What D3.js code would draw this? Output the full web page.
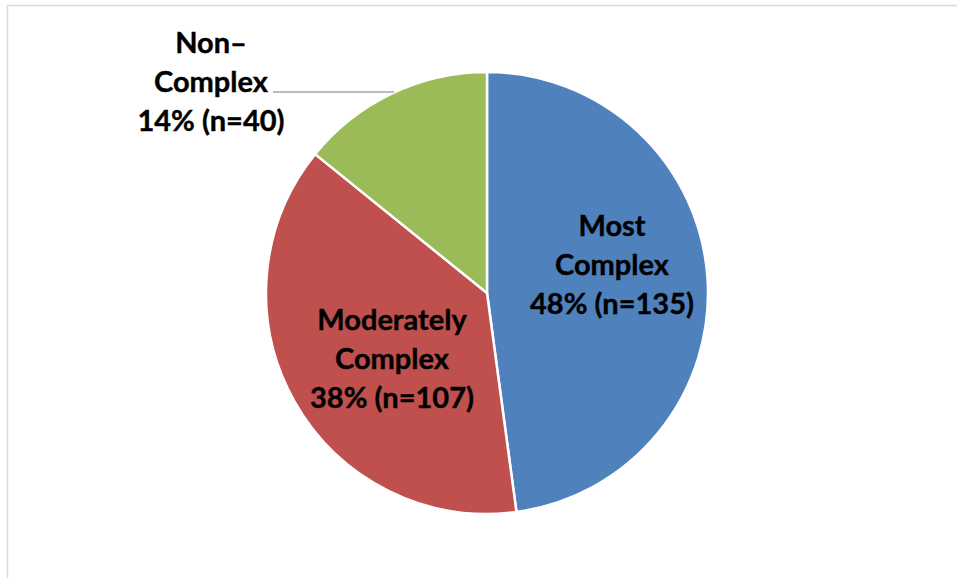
<!DOCTYPE html>
<html>
<head>
<meta charset="utf-8">
<script src="https://cdn.jsdelivr.net/npm/d3@7"></script>
<style>
  html, body { margin: 0; padding: 0; background: #fff; }
  svg { display: block; }
</style>
</head>
<body>
<svg id="chart" width="957" height="578"></svg>
<script>
// Case complexity breakdown
const categories = ["Most Complex", "Moderately Complex", "Non\u2013Complex"];
const counts = [135, 107, 40];
const percents = ["48%", "38%", "14%"];
const labelLines = [
  ["Most", "Complex"],
  ["Moderately", "Complex"],
  ["Non\u2013", "Complex"]
];
const colors = ["#4F81BD", "#C0504D", "#9BBB59"];

const W = 957, H = 578;
const cx = 487, cy = 293, R = 221;

const svg = d3.select("#chart");

// chart frame (clipped by the page edge on the right and bottom)
svg.append("rect")
  .attr("x", 7.5).attr("y", 5.5)
  .attr("width", W + 20).attr("height", H + 20)
  .attr("fill", "#fff")
  .attr("stroke", "#d9d9d9")
  .attr("stroke-width", 1.5);

const pie = d3.pie().sort(null).value(d => d)(counts);
const arc = d3.arc().innerRadius(0).outerRadius(R);

const g = svg.append("g").attr("transform", `translate(${cx},${cy})`);

g.selectAll("path.slice")
  .data(pie)
  .join("path")
  .attr("class", "slice")
  .attr("d", arc)
  .attr("fill", (d, i) => colors[i])
  .attr("stroke", "#fff")
  .attr("stroke-width", 2.5)
  .attr("stroke-linejoin", "round");

// label anchor points (x center, first baseline) relative to pie center
const labelPos = [
  { x: 125, y: -57 },
  { x: -95, y: 37 },
  { x: -276, y: -240 }
];
const lineStep = 39;

// leader line for the small slice label, running level until it meets the rim
const leaderY = -201;
const rimX = -Math.sqrt(R * R - leaderY * leaderY);
g.append("path")
  .attr("d", `M${labelPos[2].x + 62},${leaderY} L${rimX - 1},${leaderY}`)
  .attr("fill", "none")
  .attr("stroke", "#a6a6a6")
  .attr("stroke-width", 1.5);

const labels = g.selectAll("text.lbl")
  .data(pie)
  .join("text")
  .attr("class", "lbl")
  .attr("text-anchor", "middle")
  .attr("font-family", "Lato, 'Open Sans', sans-serif")
  .attr("font-weight", 700)
  .attr("font-size", 29)
  .attr("fill", "#000")
  .attr("stroke", "#000")
  .attr("stroke-width", 0.4);

labels.each(function(d, i) {
  const t = d3.select(this);
  const lines = labelLines[i].concat([`${percents[i]} (n=${counts[i]})`]);
  lines.forEach((ln, k) => {
    t.append("tspan")
      .attr("x", labelPos[i].x)
      .attr("y", labelPos[i].y + k * lineStep)
      .text(ln);
  });
});
</script>
</body>
</html>
